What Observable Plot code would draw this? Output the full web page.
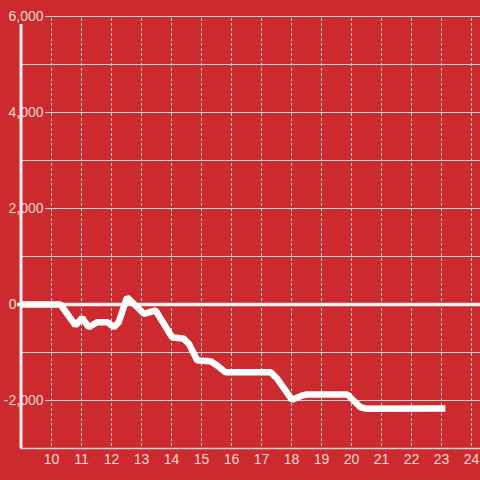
<!DOCTYPE html>
<html>
<head>
<meta charset="utf-8">
<script src="https://cdn.jsdelivr.net/npm/d3@7"></script>
<script src="https://cdn.jsdelivr.net/npm/@observablehq/plot@0.6"></script>
<style>
  html, body { margin: 0; padding: 0; background: #cc2a2f; }
  #chart svg { display: block; }
</style>
</head>
<body>
<div id="chart"></div>
<script>
const hours = [9, 10.3, 10.8, 11.02, 11.24, 11.52, 11.86, 12.08, 12.24, 12.52, 13.08, 13.47, 14.02, 14.41, 14.58, 14.86, 15.3, 15.52, 15.8, 17.3, 17.52, 18.02, 18.36, 18.52, 19.86, 20.3, 20.52, 23.13];
const values = [0, 0, -437, -277, -473, -369, -369, -473, -369, 152, -194, -125, -681, -715, -819, -1167, -1181, -1271, -1410, -1410, -1542, -1985, -1896, -1875, -1875, -2140, -2173, -2167];
const xTicks = [10, 11, 12, 13, 14, 15, 16, 17, 18, 19, 20, 21, 22, 23, 24];
const yLabelTicks = [-2000, 2000, 4000, 6000];
const yMinorTicks = [-1000, 1000, 3000, 5000];
const yZero = [0];
const yBottom = [-3000];
const xStart = [9];

const data = hours.map((h, i) => ({hour: h, value: values[i]}));
const fmt = d3.format(",");
const grid = "#dcd4d4";
const textColor = "#f6d8d8";

const chart = Plot.plot({
  width: 480,
  height: 480,
  marginLeft: 21,
  marginRight: 0,
  marginTop: 16,
  marginBottom: 32,
  style: {background: "#cc2a2f", fontFamily: "'Liberation Sans', Arial, sans-serif", fontSize: "14px", color: textColor},
  x: {domain: [9, 24.3], axis: null},
  y: {domain: [-3000, 6000], axis: null},
  marks: [
    Plot.ruleX(xTicks, {stroke: grid, strokeWidth: 1, strokeDasharray: "3,2", insetTop: 2}),
    Plot.ruleY(yMinorTicks, {stroke: grid, strokeWidth: 1}),
    Plot.ruleY(yLabelTicks, {stroke: grid, strokeWidth: 1, insetLeft: 24}),
    Plot.ruleY(yBottom, {stroke: grid, strokeWidth: 1.5, insetLeft: -1}),
    Plot.text(yLabelTicks, {y: d => d, text: d => fmt(d).replace("−", "-"), frameAnchor: "left", dx: 22, textAnchor: "end", fill: textColor, fontSize: 14}),
    Plot.text(yZero, {y: d => d, text: d => "0", frameAnchor: "left", dx: -5, textAnchor: "end", fill: textColor, fontSize: 14}),
    Plot.text(xTicks, {x: d => d, text: d => String(d), frameAnchor: "bottom", dy: 15, fill: textColor, fontSize: 14}),
    Plot.ruleX(xStart, {stroke: "#f4f0f0", strokeWidth: 3, dx: -0.5, insetTop: 8}),
    Plot.ruleY(yZero, {stroke: "#f4f0f0", strokeWidth: 3.5, insetLeft: -4}),
    Plot.line(data, {x: "hour", y: "value", stroke: "#ffffff", strokeWidth: 6.5, strokeLinejoin: "miter", strokeLinecap: "butt"})
  ]
});
document.getElementById("chart").appendChild(chart);
</script>
</body>
</html>
